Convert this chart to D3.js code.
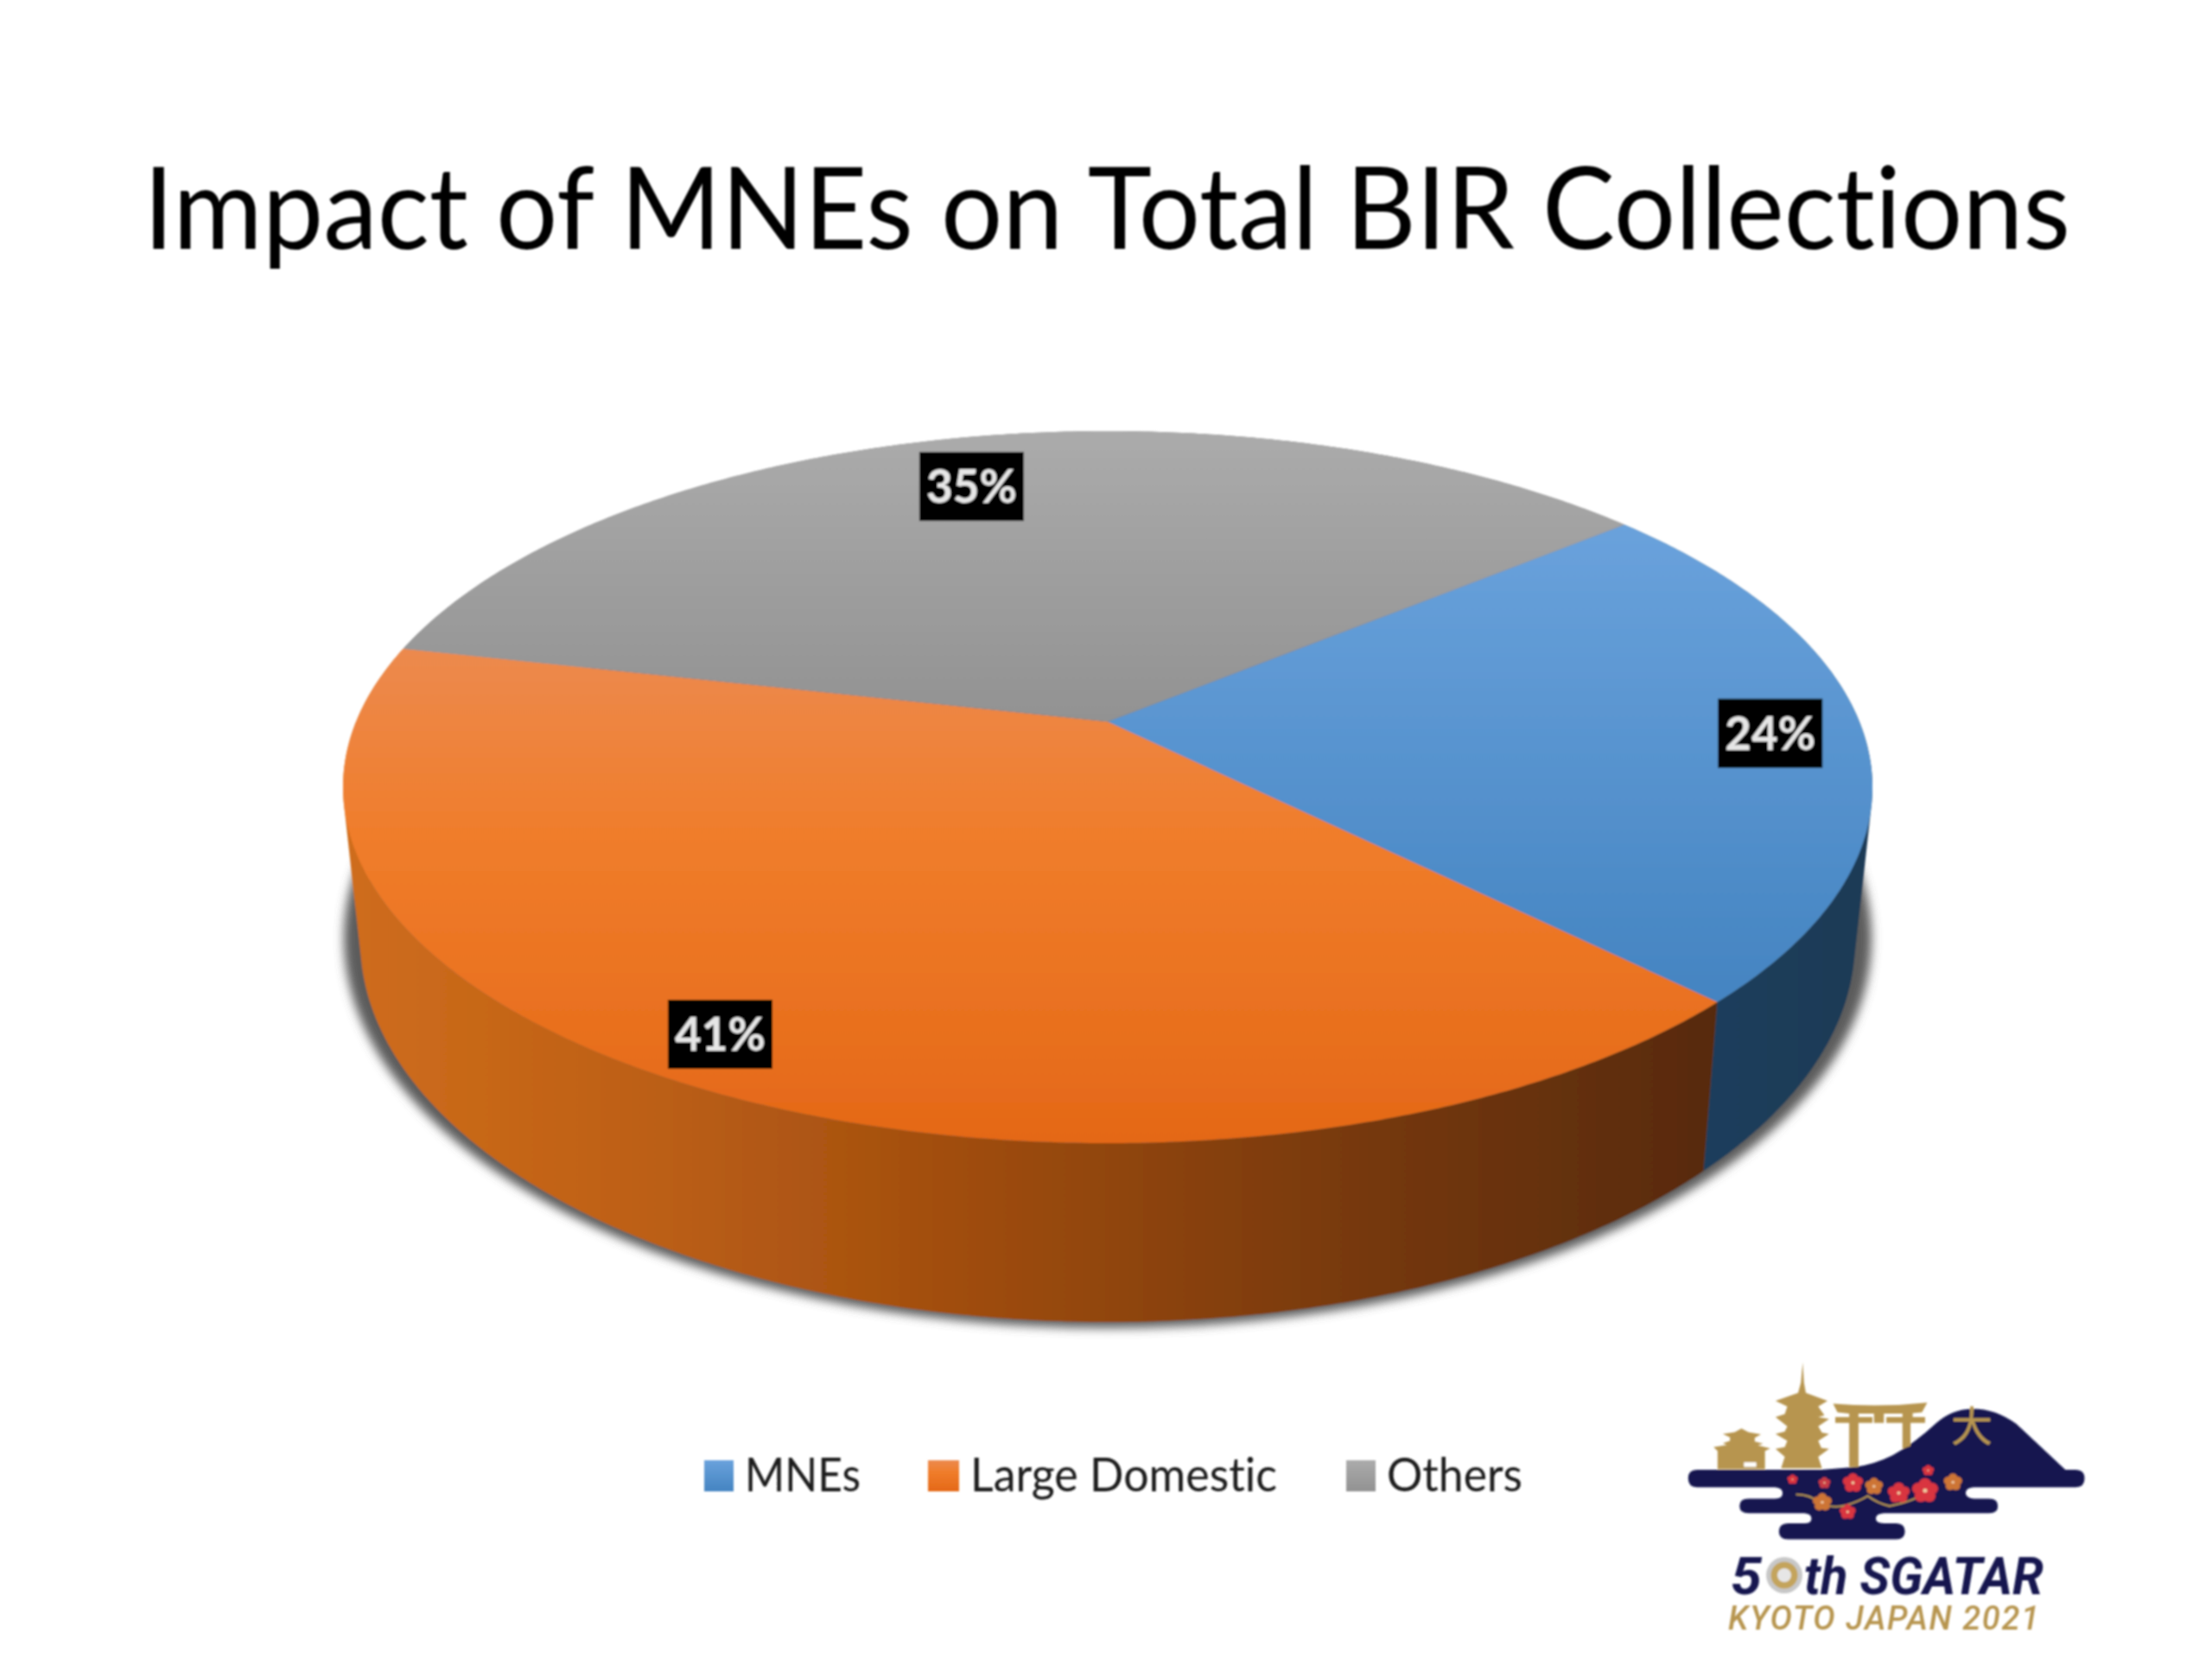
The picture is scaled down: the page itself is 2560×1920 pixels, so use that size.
<!DOCTYPE html>
<html><head><meta charset="utf-8">
<script src="https://cdn.jsdelivr.net/npm/d3@7"></script>
<style>html,body{margin:0;background:#fff}svg{display:block}text{font-variant-ligatures:none}</style></head>
<body><svg id="c" width="2560" height="1920" viewBox="0 0 2560 1920"></svg>
<script>
const titleText = "Impact of MNEs on Total BIR Collections";
const categories = ["MNEs", "Large Domestic", "Others"];
const values = [23.6, 41, 35.4];
const topStops = [["#6aa2dc","#4484c1"],["#ec8a4e","#e46817"],["#ababab","#929292"]];
const wallStops = [["#1c3e5c","#1b3a56"],["#cf6d1c","#572a09"],["#888888","#666666"]];

const FONT = "Lato, Carlito, sans-serif";
const root = d3.select("#c");
const defs = root.append("defs");
root.append("rect").attr("width",2560).attr("height",1920).attr("fill","#fff");
const all = defs.append("filter").attr("id","all").attr("filterUnits","userSpaceOnUse")
  .attr("x",0).attr("y",0).attr("width",2560).attr("height",1920);
all.append("feGaussianBlur").attr("stdDeviation",0.8);
const svg = root.append("g").attr("filter","url(#all)");

// Title
svg.append("text").attr("x",166).attr("y",288).attr("font-family",FONT).attr("font-size",132)
  .attr("fill","#000").attr("textLength",2230).attr("lengthAdjust","spacingAndGlyphs").text(titleText);

// Perspective disc: a projective map keeps a circle on an ellipse and moves its centre
const T = -0.184, S = Math.sqrt(1 - T*T);
const topDisc = {cx:1282, cy:911, rx:885, ry:412};
const botDisc = {cx:1282, cy:1089, rx:865, ry:441};
function proj(d, r, a){
  const u = r*Math.sin(a), v = -r*Math.cos(a), w = 1 + T*v;
  return [d.cx + d.rx*S*u/w, d.cy + d.ry*(v+T)/w];
}
const start = 50.2*Math.PI/180;
const arcs = d3.pie().sort(null).startAngle(start).endAngle(start+2*Math.PI)(values);
const step = Math.PI/360;
const rim = (d,a0,a1) => { const n=Math.ceil((a1-a0)/step); return d3.range(n+1).map(i=>proj(d,1,a0+(a1-a0)*i/n)); };
const line = d3.line();

// gradients
function grad(id,x1,y1,x2,y2,c,extra){
  const g = defs.append("linearGradient").attr("id",id)
    .attr("x1",x1).attr("y1",y1).attr("x2",x2).attr("y2",y2);
  if(x1!==0||x2!==0||y2!==1||y1!==0) g.attr("gradientUnits","userSpaceOnUse");
  (extra||[[0,c[0]],[1,c[1]]]).forEach(s=>g.append("stop").attr("offset",s[0]).attr("stop-color",s[1]));
}
const midStops = [
  [[0,topStops[0][0]],[1,topStops[0][1]]],
  [[0,topStops[1][0]],[0.38,"#f07d2b"],[1,topStops[1][1]]],
  [[0,topStops[2][0]],[1,topStops[2][1]]]
];
categories.forEach((c,i)=>{
  const pts = rim(topDisc,arcs[i].startAngle,arcs[i].endAngle);
  const ys = pts.map(p=>p[1]).concat(proj(topDisc,0,0)[1]);
  grad("top"+i,0,d3.min(ys),0,d3.max(ys),null,midStops[i]);
  grad("leg"+i,0,0,0,1,null,midStops[i]);
});
grad("wall1",397,0,1989,0,wallStops[1],[[0,wallStops[1][0]],[0.2,"#bf6116"],[0.45,"#a04d0f"],[0.75,"#753809"],[1,wallStops[1][1]]]);
grad("wall0",1972,0,2165,0,wallStops[0]);
grad("wall2",397,0,2165,0,wallStops[2]);

// Shadow
const blur = defs.append("filter").attr("id","sh").attr("x","-10%").attr("y","-10%").attr("width","120%").attr("height","120%");
blur.append("feGaussianBlur").attr("stdDeviation",6);
svg.append("ellipse").attr("cx",1282).attr("cy",1086).attr("rx",884).attr("ry",451)
  .attr("fill","#5c5c5c").attr("filter","url(#sh)");

// Walls: union of small quads between the two rims
function wallPath(a0,a1){
  const t = rim(topDisc,a0,a1), b = rim(botDisc,a0,a1);
  let s = "";
  for(let i=0;i<t.length-1;i++){
    const h = d3.polygonHull([t[i],t[i+1],b[i+1],b[i]]);
    if(h) s += line(h)+"Z";
  }
  return s;
}
const sliceG = svg.append("g");
[2,0,1].forEach(i=>{
  sliceG.append("path").attr("d",wallPath(arcs[i].startAngle,arcs[i].endAngle))
    .attr("fill",`url(#wall${i})`);
});
// Top faces
const face = svg.append("g");
arcs.forEach((a,i)=>{
  const pts = [proj(topDisc,0,0)].concat(rim(topDisc,a.startAngle,a.endAngle));
  face.append("path").attr("d",line(pts)+"Z").attr("fill",`url(#top${i})`);
});

// Data labels
const labelRadius = [0.878,0.89,0.808], labelDx = [-2,-11,-14], labelDy = [-3,0,1];
const fmt = v => d3.format(".0f")(v)+"%";
arcs.forEach((a,i)=>{
  const [px,py] = proj(topDisc,labelRadius[i],(a.startAngle+a.endAngle)/2);
  const x = px+labelDx[i], y = py+labelDy[i];
  svg.append("rect").attr("x",x-60.5).attr("y",y-40).attr("width",121).attr("height",80).attr("fill","#000");
  svg.append("text").attr("x",x).attr("y",y+19).attr("text-anchor","middle")
    .attr("font-family",FONT).attr("font-weight",700).attr("font-size",53)
    .attr("fill","#e6e6e6").text(fmt(values[i]));
});

// Legend
const legendX = [815,1074,1558], legendW=[34,36,34], legendTextX=[862,1123,1605], legendTextW=[134,355,157];
categories.forEach((c,i)=>{
  svg.append("rect").attr("x",legendX[i]).attr("y",1690).attr("width",legendW[i]).attr("height",36).attr("fill",`url(#leg${i})`);
  svg.append("text").attr("x",legendTextX[i]).attr("y",1726).attr("font-family",FONT).attr("font-size",54)
    .attr("fill","#1a1a1a").attr("textLength",legendTextW[i]).attr("lengthAdjust","spacingAndGlyphs").text(c);
});

// Conference logo (decoration, not data)
const NAVY="#13174f", GOLD="#b7954f";
const soft = defs.append("filter").attr("id","soft"); soft.append("feGaussianBlur").attr("stdDeviation",0.5);
const logoRoot = svg.append("g").attr("filter","url(#soft)");
const logo = logoRoot.append("g").attr("transform","translate(1900,1550) scale(0.3584,0.3356)");
logo.append("path").attr("fill",NAVY).attr("d",
 "M178,450 Q150,450 150,480 Q150,510 178,510 L430,510 Q455,512 455,530 Q455,550 430,550 L345,550 Q316,550 316,575 Q316,600 345,600 L525,600 Q548,602 548,618 Q548,635 525,635 L472,635 Q443,637 443,662 Q443,690 472,690 L822,690 Q850,690 850,662 Q850,637 822,635 L782,635 Q756,633 756,618 Q756,602 782,600 L1122,600 Q1150,600 1150,575 Q1150,550 1122,550 L1072,550 Q1046,548 1046,530 Q1046,512 1072,510 L1402,510 Q1430,510 1430,480 Q1430,450 1402,450 L1368,450 L1210,292 Q1140,238 1065,240 Q1000,242 950,290 Q880,360 810,400 Q750,432 690,440 L580,450 Z");
// pagoda
logo.append("path").attr("fill",GOLD).attr("d",
 "M520,80 L524,150 L530,185 L600,212 L570,232 L590,262 L570,268 L605,275 L570,300 L582,322 L605,326 L570,350 L580,375 L605,378 L570,405 L582,445 L450,445 L462,405 L432,378 L462,372 L470,350 L432,326 L462,318 L470,300 L432,268 L462,258 L470,232 L432,212 L505,185 L514,150 Z");
// torii
logo.append("path").attr("fill",GOLD).attr("d",
 "M618,222 Q770,236 922,218 L905,252 L875,255 L875,268 L915,268 L915,288 L868,288 L868,368 L842,378 L842,288 L790,288 L790,268 L842,268 L842,256 L782,256 L782,288 L750,288 L750,256 L700,256 L700,268 L745,268 L745,288 L700,288 L700,440 L670,440 L670,288 L625,288 L625,268 L670,268 L670,256 L632,252 Z");
// castle
logo.append("path").attr("fill",GOLD).attr("d",
 "M322,308 L345,320 L385,328 L365,340 L365,352 L392,360 L375,366 L415,376 L398,385 L398,448 L245,448 L245,385 L232,372 L275,364 L262,358 L285,350 L285,338 L262,326 L300,320 Z");
logo.append("rect").attr("x",330).attr("y",424).attr("width",40).attr("height",16).attr("fill","#fff");
// branch
logo.append("path").attr("fill","none").attr("stroke",GOLD).attr("stroke-width",6)
 .attr("d","M498,535 Q545,535 575,565 Q620,585 660,572 Q700,560 730,540 Q760,565 800,575 Q850,565 885,548");
// blossoms
const blossoms=[[487,483,17,"#d9343f"],[590,495,20,"#c73a44"],[682,495,34,"#d9343f"],[750,507,30,"#cd7436"],[925,452,19,"#d9343f"],[1005,493,31,"#cd7436"],[830,530,37,"#d9343f"],[915,522,44,"#d9343f"],[583,562,32,"#cd7436"],[665,595,27,"#d9343f"]];
blossoms.forEach(([x,y,r,c])=>{
  d3.range(5).forEach(k=>{
    const a=k*2*Math.PI/5-Math.PI/2;
    logo.append("circle").attr("cx",x+0.52*r*Math.cos(a)).attr("cy",y+0.52*r*Math.sin(a)).attr("r",0.46*r).attr("fill",c);
  });
  logo.append("circle").attr("cx",x).attr("cy",y).attr("r",0.16*r).attr("fill","#f0c9a0");
});
logoRoot.append("text").attr("x",2282).attr("y",1668).attr("text-anchor","middle")
  .attr("font-family","'Noto Sans CJK JP'").attr("font-size",48).attr("fill",GOLD).text("大");
logoRoot.append("text").attr("x",2003).attr("y",1845).attr("font-family","Roboto").attr("font-weight",700).attr("font-style","italic")
  .attr("font-size",60).attr("fill",NAVY).attr("textLength",36).attr("lengthAdjust","spacingAndGlyphs").text("5");
logoRoot.append("circle").attr("cx",2065).attr("cy",1823).attr("r",21).attr("fill","#c7c7c7");
logoRoot.append("circle").attr("cx",2065).attr("cy",1823).attr("r",15.5).attr("fill","#c4a45c");
logoRoot.append("circle").attr("cx",2065).attr("cy",1823).attr("r",8).attr("fill","#e6e6e6");
logoRoot.append("text").attr("x",2088).attr("y",1845).attr("font-family","Roboto").attr("font-weight",700).attr("font-style","italic")
  .attr("font-size",60).attr("fill",NAVY).attr("textLength",277).attr("lengthAdjust","spacingAndGlyphs").text("th SGATAR");
logoRoot.append("text").attr("x",2000).attr("y",1886).attr("font-family","Roboto").attr("font-weight",500).attr("font-style","italic")
  .attr("font-size",38).attr("fill",GOLD).attr("textLength",360).attr("lengthAdjust","spacing").text("KYOTO JAPAN 2021");
</script></body></html>
